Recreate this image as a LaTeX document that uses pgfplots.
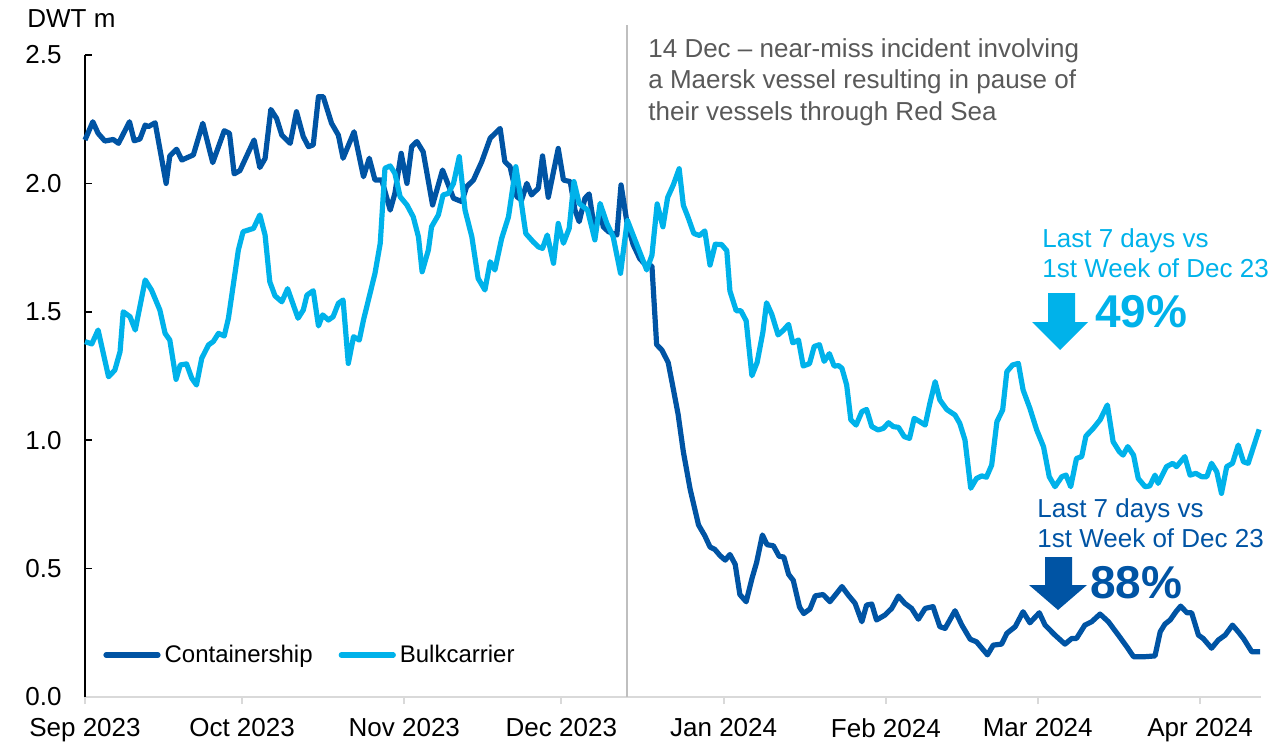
\documentclass[border=0pt]{standalone}
\usepackage{fontspec}
\setmainfont{Liberation Sans}
\usepackage{pgfplots}
\pgfplotsset{compat=1.18}

\definecolor{contblue}{RGB}{0,84,164}
\definecolor{bulkblue}{RGB}{0,178,234}
\definecolor{notegray}{RGB}{89,89,89}
\definecolor{linegray}{RGB}{191,191,191}
\definecolor{axisgray}{RGB}{217,217,217}

\newcommand\lbl{\fontsize{13}{15.5}\selectfont}

\begin{document}
\begin{tikzpicture}
\begin{axis}[
  scale only axis,
  width=588pt, height=321pt,
  xmin=0, xmax=224.65, ymin=0, ymax=2.5,
  axis x line*=bottom, axis y line*=left,
  x axis line style={axisgray, line width=1pt},
  y axis line style={black, line width=0.8pt},
  xtick={0,30,61,91,122,153,182,213},
  xticklabels={Sep 2023,Oct 2023,Nov 2023,Dec 2023,Jan 2024,Feb 2024,Mar 2024,Apr 2024},
  ytick={0,0.5,1,1.5,2,2.5},
  yticklabels={0.0,0.5,1.0,1.5,2.0,2.5},
  xtick align=outside, ytick align=inside,
  major tick length=3.5pt,
  x tick style={axisgray, line width=1pt},
  y tick style={black, line width=0.8pt},
  tick label style={font=\lbl},
  xticklabel style={anchor=north, inner sep=0pt, yshift=-7pt},
  yticklabel style={anchor=east, inner sep=0pt, xshift=-11.5pt},
  clip=false,
  legend style={at={(axis description cs:0.0153,0.0654)}, anchor=west,
    draw=none, fill=none, font=\fontsize{12}{14}\selectfont, inner sep=0pt,
    legend columns=2,
    /tikz/every even column/.append style={column sep=11pt}},
  legend cell align=left,
  legend image code/.code={\draw[#1, line width=2.6pt, line cap=round] (0pt,0pt) -- (26pt,0pt);},
]
\coordinate (O) at (axis cs:0,0);
\draw[linegray, line width=0.75pt] (axis cs:103.5,0) -- (axis cs:103.5,2.617);

\addplot[contblue, line width=2.6pt, line join=round] coordinates {
(0,2.169) (1.5,2.240) (2.5,2.195) (3.8,2.165) (5.4,2.171) (6.4,2.156) (8.5,2.240)
(9.4,2.166) (10.5,2.173) (11.5,2.227) (12.1,2.221) (13.4,2.236) (15.5,2.000)
(16.2,2.107) (17.5,2.133) (18.5,2.091) (20.7,2.111) (22.5,2.234) (24.4,2.081)
(26.6,2.205) (27.6,2.195) (28.5,2.037) (29.6,2.050) (32.3,2.169) (33.4,2.062)
(34.4,2.097) (35.5,2.288) (36.6,2.253) (37.6,2.188) (39.2,2.156) (40.4,2.279)
(41.7,2.182) (42.7,2.143) (43.6,2.150) (44.6,2.338) (45.5,2.338) (47.1,2.234)
(48.4,2.188) (49.3,2.098) (51.4,2.201) (53.2,2.026) (54.3,2.098) (55.4,2.013)
(56.7,2.013) (58.3,1.896) (59.2,1.961) (60.4,2.117) (61.5,2.000) (62.4,2.143)
(63.4,2.163) (64.6,2.123) (66.4,1.916) (68.3,2.052) (70.4,1.942) (72.0,1.929)
(72.9,1.987) (74.2,2.013) (75.8,2.085) (77.4,2.176) (79.3,2.214) (80.2,2.085)
(81.2,2.065) (82.5,1.948) (83.4,1.935) (84.4,2.000) (85.3,1.955) (86.6,1.981)
(87.4,2.107) (88.5,1.946) (90.4,2.136) (91.4,2.013) (92.7,2.007) (93.6,1.896)
(94.4,1.851) (95.5,1.942) (96.3,1.959) (97.4,1.812) (98.4,1.896) (99.0,1.831)
(100.0,1.812) (101.6,1.799) (102.4,1.994) (103.5,1.852) (104.7,1.762) (106.0,1.706)
(107.0,1.685) (108.3,1.678) (109.2,1.372) (110.2,1.351) (111.4,1.303) (112.4,1.198)
(113.3,1.101) (114.3,0.955) (115.6,0.809) (117.2,0.670) (118.4,0.628) (119.4,0.584)
(120.3,0.575) (121.3,0.551) (122.3,0.533) (123.2,0.555) (124.2,0.517) (125.1,0.399)
(126.3,0.371) (127.4,0.461) (128.3,0.524) (129.4,0.631) (130.3,0.593) (131.5,0.589)
(132.6,0.548) (133.5,0.545) (134.4,0.478) (135.3,0.454) (136.5,0.350) (137.3,0.325)
(138.5,0.343) (139.5,0.394) (141.0,0.399) (142.3,0.371) (143.6,0.404) (144.6,0.430)
(145.8,0.397) (147.1,0.365) (148.4,0.293) (149.3,0.358) (150.3,0.362) (151.2,0.300)
(152.8,0.319) (154.1,0.345) (155.4,0.393) (156.6,0.365) (157.9,0.345) (159.2,0.303)
(160.5,0.345) (162.0,0.352) (163.3,0.274) (164.3,0.267) (166.2,0.336) (167.5,0.280)
(169.1,0.225) (170.3,0.215) (172.4,0.164) (173.5,0.202) (175.1,0.206) (176.1,0.248)
(177.7,0.274) (179.2,0.332) (180.5,0.289) (182.3,0.328) (183.4,0.280) (185.3,0.241)
(187.2,0.206) (188.5,0.228) (189.4,0.228) (191.0,0.280) (192.3,0.293) (193.9,0.323)
(195.5,0.293) (197.4,0.241) (199.0,0.196) (200.3,0.157) (202.5,0.157) (204.4,0.160)
(205.4,0.254) (206.3,0.284) (207.3,0.300) (208.4,0.332) (209.3,0.354) (210.5,0.328)
(211.4,0.328) (212.7,0.241) (213.6,0.228) (215.2,0.190) (216.5,0.222) (217.8,0.241)
(219.2,0.280) (220.3,0.254) (221.3,0.228) (222.9,0.176) (224.5,0.176)
};
\addlegendentry{Containership}

\addplot[bulkblue, line width=2.6pt, line join=round] coordinates {
(0,1.384) (1.3,1.375) (2.5,1.429) (4.5,1.247) (5.7,1.273) (6.7,1.345) (7.3,1.500)
(8.6,1.481) (9.6,1.429) (11.5,1.624) (12.7,1.585) (14.3,1.507) (15.3,1.416)
(16.2,1.390) (17.4,1.237) (18.2,1.293) (19.4,1.297) (20.4,1.241) (21.3,1.215)
(22.3,1.319) (23.6,1.371) (24.5,1.384) (25.5,1.416) (26.6,1.406) (27.4,1.475)
(29.3,1.741) (30.2,1.812) (32.2,1.825) (33.4,1.877) (34.4,1.799) (35.3,1.617)
(36.3,1.562) (37.6,1.539) (38.7,1.590) (40.7,1.475) (41.7,1.507) (42.4,1.565)
(43.6,1.582) (44.6,1.445) (45.4,1.488) (46.5,1.468) (47.4,1.481) (48.4,1.533)
(49.3,1.546) (50.3,1.299) (51.3,1.403) (52.4,1.390) (53.2,1.468) (55.4,1.650)
(56.4,1.767) (57.3,2.059) (58.3,2.068) (59.2,2.039) (60.2,1.948) (61.5,1.916)
(62.7,1.870) (63.7,1.792) (64.4,1.656) (65.6,1.741) (66.2,1.831) (67.5,1.877)
(68.4,1.955) (69.4,1.961) (70.4,2.000) (71.5,2.104) (72.6,1.896) (73.9,1.792)
(75.1,1.630) (76.4,1.585) (77.4,1.695) (78.3,1.663) (79.6,1.786) (80.9,1.870)
(82.3,2.065) (83.1,1.961) (84.2,1.805) (85.6,1.773) (86.6,1.753) (87.4,1.747)
(88.3,1.799) (89.5,1.689) (90.4,1.844) (91.4,1.767) (92.5,1.825) (93.4,2.007)
(94.4,1.922) (96.0,1.896) (97.4,1.780) (98.4,1.922) (99.7,1.844) (100.9,1.792)
(102.3,1.650) (103.6,1.857) (104.7,1.799) (105.7,1.747) (107.3,1.663) (108.3,1.720)
(109.3,1.920) (110.4,1.831) (111.3,1.945) (112.4,1.995) (113.5,2.057) (114.3,1.915)
(115.2,1.868) (116.3,1.805) (117.4,1.797) (118.4,1.815) (119.4,1.682) (120.4,1.763)
(121.6,1.762) (122.6,1.738) (123.2,1.581) (124.4,1.504) (125.3,1.504) (126.3,1.465)
(127.4,1.251) (128.4,1.303) (129.5,1.421) (130.2,1.535) (131.2,1.490) (132.4,1.410)
(133.4,1.428) (134.4,1.451) (135.2,1.379) (136.3,1.390) (137.2,1.289) (138.4,1.298)
(139.3,1.365) (140.3,1.372) (141.2,1.307) (142.2,1.337) (143.1,1.289) (144.0,1.290)
(144.6,1.280) (145.5,1.215) (146.3,1.079) (147.3,1.059) (148.4,1.111) (149.3,1.120)
(150.3,1.053) (151.5,1.040) (152.5,1.046) (153.5,1.068) (154.4,1.053) (155.4,1.050)
(156.5,1.014) (157.5,1.007) (158.4,1.085) (159.5,1.072) (160.5,1.059) (161.4,1.144)
(162.4,1.228) (163.3,1.157) (164.6,1.120) (166.2,1.098) (167.1,1.066) (168.1,1.001)
(169.2,0.813) (170.3,0.851) (171.3,0.861) (172.2,0.856) (173.2,0.903) (174.2,1.072)
(175.3,1.118) (176.1,1.267) (177.2,1.293) (178.3,1.299) (179.2,1.196) (180.5,1.124)
(181.8,1.040) (183.1,0.975) (184.2,0.858) (185.3,0.819) (186.6,0.858) (187.4,0.864)
(188.3,0.819) (189.4,0.929) (190.4,0.936) (191.2,1.016) (192.6,1.046) (193.9,1.079)
(195.3,1.137) (196.4,0.994) (197.6,0.955) (198.3,0.942) (199.2,0.975) (200.3,0.942)
(201.2,0.851) (202.5,0.819) (203.4,0.822) (204.4,0.864) (205.0,0.832) (206.6,0.897)
(207.8,0.910) (208.5,0.897) (210.1,0.936) (211.1,0.864) (212.2,0.871) (213.3,0.858)
(214.3,0.858) (215.2,0.910) (216.2,0.877) (217.1,0.793) (218.1,0.897) (219.2,0.910)
(220.3,0.981) (221.3,0.916) (222.2,0.910) (224.3,1.042)
};
\addlegendentry{Bulkcarrier}
\end{axis}

% annotations, in reference pixel units measured from the axis origin (y downwards)
\begin{scope}[shift={(O)}, x=0.5pt, y=-0.5pt]
\path (-85,49) rectangle (1201,-697);
\node[anchor=base west, inner sep=0pt, font=\lbl] at (-58,-669) {DWT m};
\node[anchor=north west, inner sep=0pt, align=left, text=notegray,
  font=\fontsize{13}{15.75}\selectfont] at (563,-659)
  {14 Dec – near-miss incident involving\\a Maersk vessel resulting in pause of\\their vessels through Red Sea};

\node[anchor=north west, inner sep=0pt, align=left, text=bulkblue,
  font=\fontsize{13}{15}\selectfont] at (957,-469)
  {Last 7 days vs\\1st Week of Dec 23};
\fill[bulkblue] (963,-404) -- (990,-404) -- (990,-375) -- (1003,-375)
  -- (975,-347) -- (947,-375) -- (963,-375) -- cycle;
\node[anchor=base west, inner sep=0pt, text=bulkblue,
  font=\fontsize{23}{27}\selectfont\bfseries] at (1010,-370) {49\%};

\node[anchor=north west, inner sep=0pt, align=left, text=contblue,
  font=\fontsize{13}{15}\selectfont] at (952,-199)
  {Last 7 days vs\\1st Week of Dec 23};
\fill[contblue] (960,-140) -- (987,-140) -- (987,-112) -- (1002,-112)
  -- (973,-87) -- (944,-112) -- (960,-112) -- cycle;
\node[anchor=base west, inner sep=0pt, text=contblue,
  font=\fontsize{23}{27}\selectfont\bfseries] at (1005,-99) {88\%};
\end{scope}
\end{tikzpicture}
\end{document}
